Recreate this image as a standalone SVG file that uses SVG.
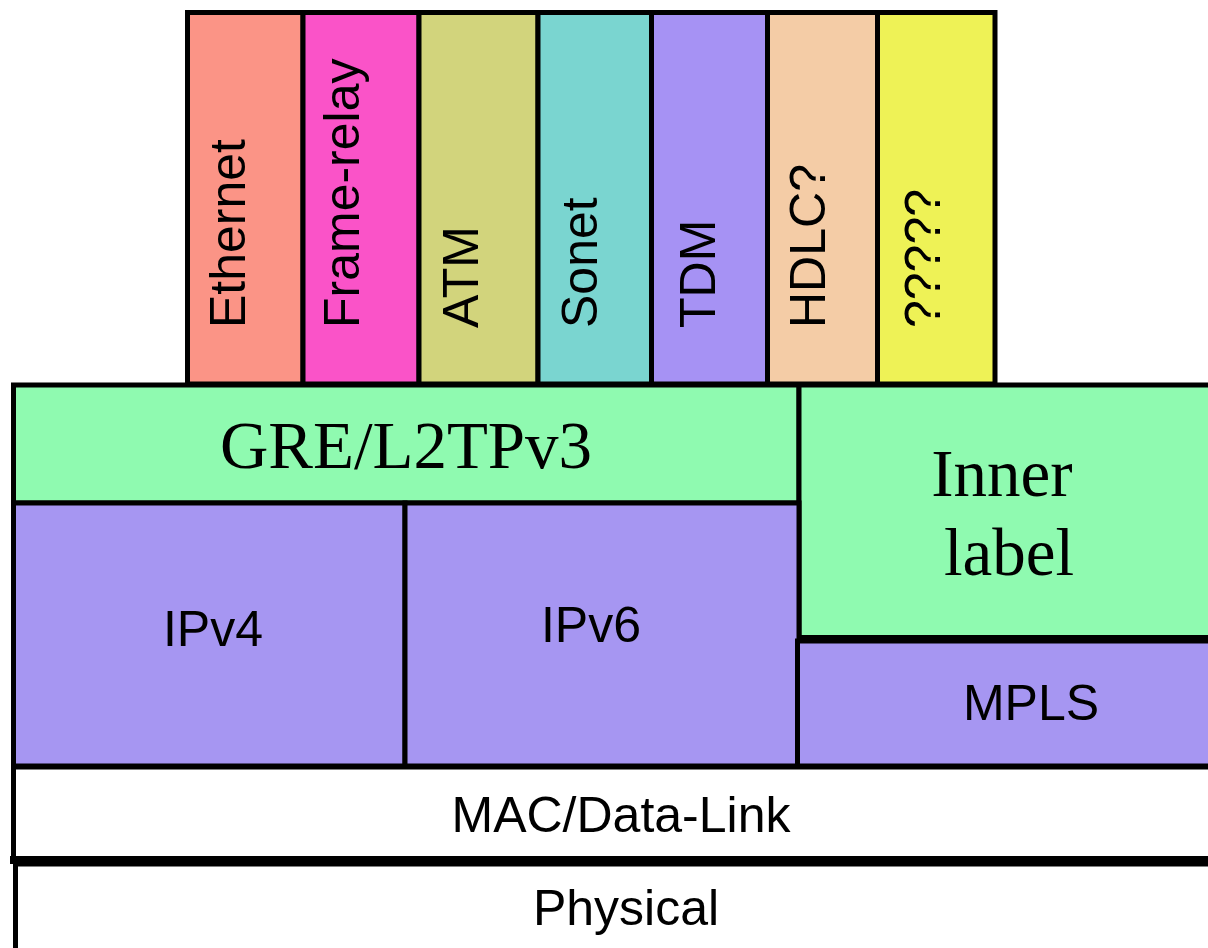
<svg xmlns="http://www.w3.org/2000/svg" width="1208" height="948" viewBox="0 0 1208 948">
  <style>
    .box { stroke: #000; stroke-width: 5; stroke-linejoin: miter; }
    .green { fill: #8ffab0; }
    .purple { fill: #a696f2; }
    .white { fill: #ffffff; }
    .sans { font-family: "Liberation Sans", Arial, sans-serif; font-size: 50px; fill: #000; }
    .serif { font-family: "Liberation Serif", "Times New Roman", serif; font-size: 67px; fill: #000; }
  </style>
  <rect width="1208" height="948" fill="#ffffff"/>

  <!-- Layer 2 payload columns -->
  <g id="col-ethernet">
    <rect class="box" x="187.5" y="12.5" width="115.5" height="371.5" fill="#fb9486"/>
    <text class="sans" transform="translate(245,328) rotate(-90)">Ethernet</text>
  </g>
  <g id="col-frame-relay">
    <rect class="box" x="303" y="12.5" width="116" height="371.5" fill="#fa53c8"/>
    <text class="sans" transform="translate(359,328) rotate(-90)">Frame-relay</text>
  </g>
  <g id="col-atm">
    <rect class="box" x="419" y="12.5" width="119" height="371.5" fill="#d2d47c"/>
    <text class="sans" transform="translate(478,328) rotate(-90)">ATM</text>
  </g>
  <g id="col-sonet">
    <rect class="box" x="538" y="12.5" width="113.5" height="371.5" fill="#7ad5d0"/>
    <text class="sans" transform="translate(597,328) rotate(-90)">Sonet</text>
  </g>
  <g id="col-tdm">
    <rect class="box" x="651.5" y="12.5" width="116" height="371.5" fill="#a692f4"/>
    <text class="sans" transform="translate(715,328) rotate(-90)">TDM</text>
  </g>
  <g id="col-hdlc">
    <rect class="box" x="767.5" y="12.5" width="110" height="371.5" fill="#f4cca6"/>
    <text class="sans" transform="translate(825,328) rotate(-90)">HDLC?</text>
  </g>
  <g id="col-unknown">
    <rect class="box" x="877.5" y="12.5" width="117.5" height="371.5" fill="#eef256"/>
    <text class="sans" transform="translate(940,328) rotate(-90)">?????</text>
  </g>

  <!-- Tunnel / demux layer -->
  <g id="gre-l2tpv3">
    <rect class="box green" x="13.5" y="385" width="785.5" height="118"/>
    <text class="serif" x="406" y="468" text-anchor="middle">GRE/L2TPv3</text>
  </g>
  <g id="inner-label">
    <rect class="box green" x="799" y="385" width="430" height="254"/>
    <line x1="797" y1="639" x2="1230" y2="639" stroke="#000" stroke-width="8"/>
    <text class="serif" x="1002" y="496" text-anchor="middle">Inner</text>
    <text class="serif" x="1009" y="575" text-anchor="middle">label</text>
  </g>

  <!-- Network layer -->
  <g id="ipv4">
    <rect class="box purple" x="13.5" y="503" width="391.5" height="263"/>
    <text class="sans" x="213" y="646" text-anchor="middle">IPv4</text>
  </g>
  <g id="ipv6">
    <rect class="box purple" x="405" y="503" width="394" height="263"/>
    <text class="sans" x="591" y="642" text-anchor="middle">IPv6</text>
  </g>
  <g id="mpls">
    <rect class="box purple" x="797.5" y="641" width="432" height="125"/>
    <line x1="797" y1="639" x2="1230" y2="639" stroke="#000" stroke-width="8"/>
    <text class="sans" x="1031" y="720" text-anchor="middle">MPLS</text>
  </g>

  <!-- Link and physical layers -->
  <g id="mac-data-link">
    <rect class="box white" x="13.5" y="767" width="1216" height="93"/>
    <line x1="10" y1="860" x2="1230" y2="860" stroke="#000" stroke-width="8"/>
    <text class="sans" x="621" y="832" text-anchor="middle">MAC/Data-Link</text>
  </g>
  <g id="physical">
    <rect class="box white" x="15.5" y="864" width="1214" height="100"/>
    <line x1="12" y1="860" x2="1230" y2="860" stroke="#000" stroke-width="8"/>
    <text class="sans" x="626" y="925" text-anchor="middle">Physical</text>
  </g>

  <!-- No connectors in this layered stack -->
  <g id="connectors"/>
</svg>
